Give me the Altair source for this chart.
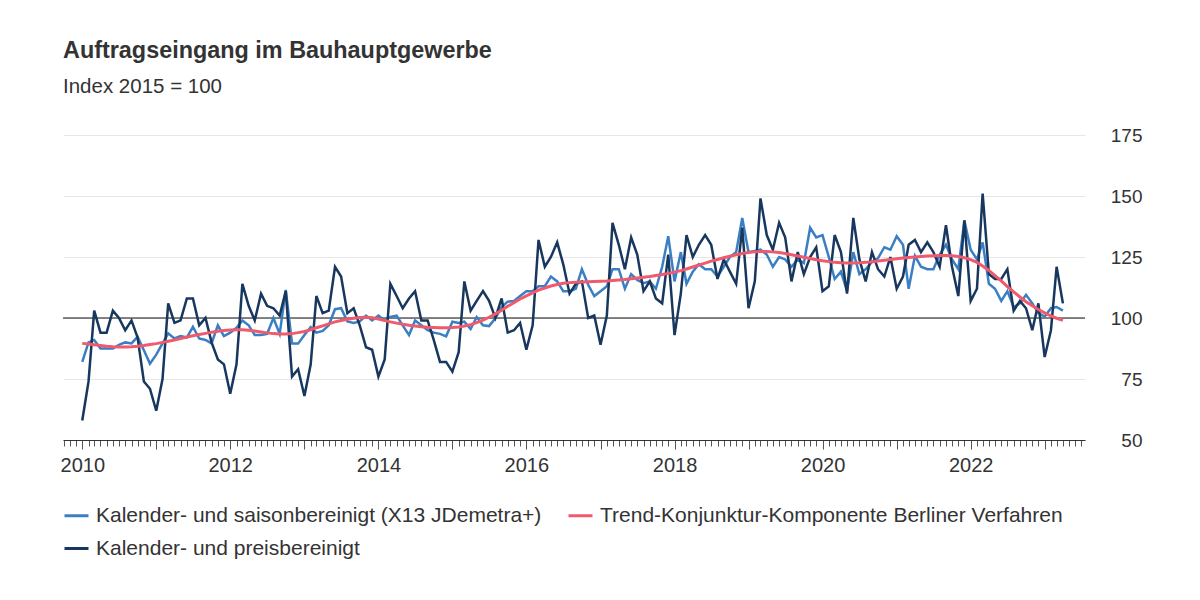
import altair as alt
import pandas as pd

# monthly values Jan 2010 .. Apr 2023 (Index 2015 = 100)
saison = [
    82, 90, 91, 87.5, 87.5, 87.5, 89, 90, 89.6, 92.3, 86.8, 81.3,
    85, 89.6, 93.7, 91.6, 92.6, 92, 96.4, 91.6, 91, 89.6, 97, 92.6,
    94, 96, 99, 97, 93, 93, 93.5, 100, 93.5, 111.5, 89.5, 89.5,
    93, 96.3, 94, 94.7, 97, 103.6, 104, 98.6, 98, 98.6, 101, 99,
    101, 99, 100.4, 101, 97, 93, 99, 97, 95, 94, 93.5, 92.5,
    98.5, 98, 98.5, 95.5, 100.4, 97, 96.7, 99.9, 104.5, 106.7, 107, 109,
    111, 111, 113, 113, 117, 115, 111, 111, 112, 120, 113.6, 109,
    111, 113, 120, 120, 112, 118, 115.6, 114.3, 115, 112, 121, 133.5,
    115, 127, 114, 119, 122, 120, 120, 117, 121, 125, 127, 141,
    127, 127.5, 128, 126, 121, 125, 124, 121, 124, 122.5, 137, 133,
    134, 125, 116, 119, 111, 127, 118, 120, 123, 124.5, 129, 128,
    133.5, 130, 112, 125.5, 121, 120, 120, 126, 130, 124, 120, 140,
    128, 124, 131, 114, 112, 107, 111, 104.5, 106, 109.5, 106, 102,
    100.6, 104, 104.5, 103,
]
preis = [
    58, 74, 103, 94, 94, 103, 100, 95, 99, 92, 74, 71,
    62, 75, 106, 98, 99, 108, 108, 97, 100, 90, 83, 81,
    69, 81, 114, 105, 99, 110, 105, 104, 101, 111, 76, 79,
    68, 81, 109, 102, 103, 121, 117, 102, 104, 97, 88, 87,
    76, 83, 114, 109, 104, 108, 111, 99, 99, 91, 82, 82,
    78, 86, 115, 103, 107, 111, 107, 100, 108, 94, 95, 98,
    87, 97, 132, 121, 125, 131, 122, 110, 114, 115, 100, 101,
    89, 101, 139, 130, 120, 133, 126, 111, 115, 108, 106, 126,
    93, 110, 134, 125, 130, 134, 130, 116, 124, 119, 114, 137,
    104, 115, 149, 134, 128, 139, 133, 115, 127, 118, 125, 129,
    111, 113, 134, 127, 110, 141, 124, 115, 127, 120, 117, 125,
    112, 117, 130, 132, 127, 131, 127, 121, 138, 121, 109, 140,
    107, 112, 151, 118, 116, 116, 120, 103, 107, 104, 95, 106,
    84, 95, 121, 106,
]
trend = [
    89.6, 89.3, 89.0, 88.7, 88.4, 88.2, 88.1, 88.1, 88.2, 88.4, 88.7, 89.1,
    89.5, 90.0, 90.5, 91.0, 91.6, 92.2, 92.7, 93.2, 93.7, 94.2, 94.6, 94.9,
    95.1, 95.2, 95.2, 95.0, 94.7, 94.3, 93.9, 93.6, 93.4, 93.4, 93.6, 94.0,
    94.5, 95.2, 96.0, 96.8, 97.6, 98.4, 99.0, 99.5, 99.9, 100.2, 100.3, 100.1,
    99.6, 99.0, 98.4, 97.9, 97.4, 97.0, 96.7, 96.4, 96.2, 96.1, 96.0, 96.0,
    96.1, 96.3, 96.7, 97.3, 98.1, 99.1, 100.3, 101.7, 103.2, 104.8, 106.3, 107.8,
    109.1, 110.3, 111.4, 112.3, 113.1, 113.7, 114.2, 114.5, 114.7, 114.8, 114.9, 115.0,
    115.1, 115.2, 115.4, 115.6, 115.8, 116.1, 116.4, 116.7, 117.0, 117.4, 117.8, 118.3,
    118.8, 119.4, 120.1, 120.9, 121.7, 122.5, 123.3, 124.0, 124.7, 125.3, 125.9, 126.4,
    126.8, 127.1, 127.3, 127.3, 127.1, 126.8, 126.4, 125.9, 125.4, 124.9, 124.4, 123.9,
    123.5, 123.1, 122.8, 122.6, 122.5, 122.5, 122.6, 122.8, 123.1, 123.4, 123.7, 124.0,
    124.3, 124.6, 124.8, 125.0, 125.2, 125.4, 125.5, 125.6, 125.6, 125.5, 125.2, 124.7,
    123.9, 122.8, 121.3, 119.5, 117.4, 115.2, 112.9, 110.7, 108.6, 106.7, 105.0, 103.5,
    102.1, 100.9, 99.9, 99.0,
]

months = pd.date_range("2010-01-01", periods=len(preis), freq="MS").strftime("%Y-%m-%d").tolist()

names = [
    "Kalender- und saisonbereinigt (X13 JDemetra+)",
    "Trend-Konjunktur-Komponente Berliner Verfahren",
    "Kalender- und preisbereinigt",
]
colors = ["#3a7fc3", "#ef5a6c", "#17375e"]

df = pd.concat(
    [pd.DataFrame({"date": months, "value": vals, "series": name})
     for name, vals in zip(names, [saison, trend, preis])],
    ignore_index=True,
)

FONT = "Liberation Sans"
TEXT = "#333333"

tick_values = [
    alt.DateTime(year=d.year, month=d.month, date=1, utc=True)
    for d in pd.date_range("2009-10-01", "2023-07-01", freq="MS")
]

x_enc = alt.X(
    "date:T",
    scale=alt.Scale(
        type="utc",
        domain=[alt.DateTime(year=2009, month=9, date=28, utc=True),
                alt.DateTime(year=2023, month=7, date=19, utc=True)],
    ),
    axis=alt.Axis(
        values=tick_values,
        labelExpr="utcmonth(datum.value) == 0 && utcyear(datum.value) % 2 == 0 ? utcFormat(datum.value, '%Y') : ''",
        labelOverlap=False,
        labelFlush=False,
        grid=False,
        domainColor="#333333",
        tickColor="#555555",
        tickSize={"condition": {"test": "utcmonth(datum.value) == 0", "value": 9}, "value": 6},
        labelFontSize=20,
        labelColor=TEXT,
        labelPadding=6,
        title=None,
    ),
)

y_scale = alt.Scale(domain=[50, 175], nice=False, zero=False)
y_axis = alt.Axis(
    orient="right",
    values=[50, 75, 100, 125, 150, 175],
    grid=True,
    gridColor="#e6e6e6",
    domain=False,
    ticks=False,
    labelAlign="right",
    labelPadding=57,
    labelFontSize=19,
    labelColor=TEXT,
    title=None,
)

color_enc = alt.Color(
    "series:N",
    scale=alt.Scale(domain=names, range=colors),
    legend=alt.Legend(
        title=None,
        orient="none",
        legendX=0,
        legendY=367,
        columns=2,
        direction="horizontal",
        symbolType="stroke",
        symbolSize=576,
        symbolStrokeWidth=3,
        labelFontSize=21,
        labelColor=TEXT,
        labelLimit=700,
        labelOffset=6,
        columnPadding=20,
        rowPadding=9,
    ),
)

base = alt.Chart(df).encode(
    x=x_enc, y=alt.Y("value:Q", scale=y_scale, axis=y_axis), color=color_enc
)

zero_line = (
    alt.Chart(pd.DataFrame({"value": [100]}))
    .mark_rule(color="#111111", strokeWidth=1.2)
    .encode(y=alt.Y("value:Q", scale=y_scale, axis=y_axis))
)

line_saison = base.transform_filter(alt.datum.series == names[0]).mark_line(strokeWidth=2.5)
line_preis = base.transform_filter(alt.datum.series == names[2]).mark_line(strokeWidth=2.5)
line_trend = base.transform_filter(alt.datum.series == names[1]).mark_line(strokeWidth=3)

chart = (
    alt.layer(zero_line, line_saison, line_preis, line_trend)
    .properties(
        width=1022,
        height=305,
        autosize=alt.AutoSizeParams(type="none"),
        padding={"left": 55, "top": 127, "right": 100, "bottom": 140},
        title=alt.TitleParams(
            text="Auftragseingang im Bauhauptgewerbe",
            subtitle="Index 2015 = 100",
            anchor="start",
            frame="group",
            font=FONT,
            fontSize=23.4,
            fontWeight="bold",
            color=TEXT,
            subtitleFont=FONT,
            subtitleFontSize=20.5,
            subtitleColor=TEXT,
            subtitlePadding=13,
            offset=28,
        ),
    )
    .configure(font=FONT)
    .configure_view(stroke=None)
)

chart.save("out.html", embed_options={"renderer": "svg", "actions": False})
